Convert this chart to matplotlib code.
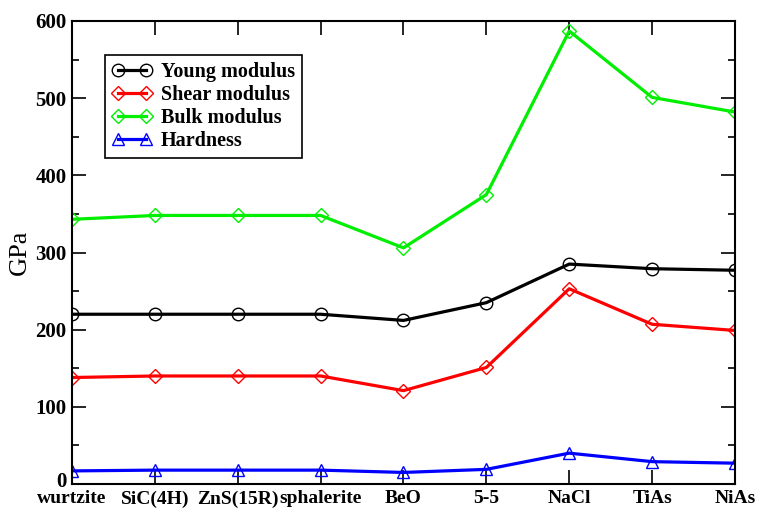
import matplotlib
matplotlib.use("Agg")
import matplotlib.pyplot as plt
import matplotlib.transforms as mtransforms
import numpy as np

plt.rcParams['font.family'] = ['Liberation Serif', 'DejaVu Serif']
plt.rcParams['font.weight'] = 'bold'

phases = ["wurtzite", "SiC(4H)", "ZnS(15R)", "sphalerite", "BeO", "5-5", "NaCl", "TiAs", "NiAs"]
young = [220, 220, 220, 220, 212, 235, 285, 279, 277]
shear = [138, 140, 140, 140, 121, 151, 253, 207, 199]
bulk = [343, 348, 348, 348, 306, 375, 587, 501, 482]
hardness = [17, 18, 18, 18, 15, 19, 40, 29, 27]

fig = plt.figure(figsize=(7.57, 5.08), dpi=100)
ax = fig.add_axes([0.0951, 0.0472, 0.8758, 0.9115])

x = np.arange(len(phases))
ax.plot(x, young, '-', color='black', lw=2.3, marker='o', ms=9, mfc='none', mec='black', mew=1,
        label='Young modulus')
ax.plot(x, shear, '-', color='red', lw=2.3, marker='D', ms=7.5, mfc='none', mec='red', mew=1,
        label='Shear modulus')
ax.plot(x, bulk, '-', color='#00ee00', lw=2.3, marker='D', ms=7.5, mfc='none', mec='#00ee00', mew=1,
        label='Bulk modulus')
ax.plot(x, hardness, '-', color='blue', lw=2.3, marker='^', ms=9, mfc='none', mec='blue', mew=1,
        label='Hardness')

ax.set_xlim(0, len(phases) - 1)
ax.set_ylim(0, 600)
ax.set_xticks(x)
ax.set_xticklabels(phases)
ax.set_yticks(np.arange(0, 601, 100))
ax.set_yticks(np.arange(0, 601, 50), minor=True)
ax.tick_params(which='both', direction='in', top=True, right=True, width=1.2)
ax.tick_params(which='major', length=10)
ax.tick_params(which='minor', length=5)
ax.tick_params(axis='x', pad=4.5, labelsize=14)
ax.tick_params(axis='y', pad=4, labelsize=15)
for s in ax.spines.values():
    s.set_linewidth(1.5)
ax.set_ylabel('GPa', fontsize=19, labelpad=3)

# lift the "0" a touch so it does not sit on "wurtzite"
fig.canvas.draw()
zero = ax.get_yticklabels()[0]
zero.set_transform(zero.get_transform() + mtransforms.ScaledTranslation(0, 3 / 72, fig.dpi_scale_trans))

leg = ax.legend(loc='upper left', bbox_to_anchor=(0.05, 0.927), fontsize=14.5, frameon=True, fancybox=False,
                edgecolor='black', framealpha=1, numpoints=2, handlelength=2.0, handletextpad=0.4,
                labelspacing=0.15, borderpad=0.35, borderaxespad=0)
leg.get_frame().set_linewidth(1.2)

fig.savefig('out.png', dpi=100)
